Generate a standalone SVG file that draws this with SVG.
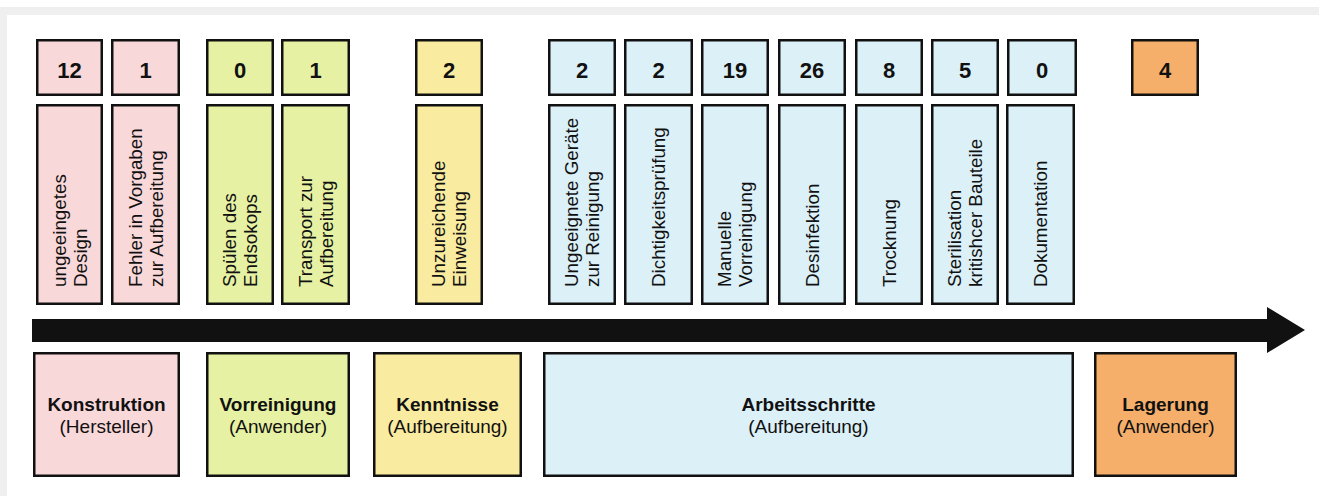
<svg xmlns="http://www.w3.org/2000/svg" width="1319" height="496" viewBox="0 0 1319 496">
<style>
  text { font-family: "Liberation Sans", Arial, sans-serif; fill: #111; }
  .box { stroke: #111; stroke-width: 2.5; }
  .pink { fill: #f9d8da; }
  .green { fill: #e6f1a3; }
  .yellow { fill: #f9eb9f; }
  .blue { fill: #dcf0f8; }
  .orange { fill: #f5af6b; }
  .num { font-size: 22px; font-weight: bold; text-anchor: middle; }
  .vt { font-size: 18.8px; }
  .title { font-size: 19px; font-weight: bold; text-anchor: middle; }
  .sub { font-size: 19px; text-anchor: middle; }
</style>
<rect x="0" y="0" width="1319" height="496" fill="#ffffff"/>
<rect x="0" y="7" width="1319" height="8" fill="#efefef"/>
<rect x="0" y="7" width="7" height="489" fill="#efefef"/>

<g id="connectors">
  <polygon points="32,319 1267,319 1267,307 1305,330 1267,353 1267,342 32,342" fill="#111"/>
</g>

<!-- Konstruktion -->
<g id="n-konstruktion">
  <rect class="box pink" x="34.25" y="353.25" width="144.5" height="122.5"/>
  <text class="title" x="106.5" y="411">Konstruktion</text>
  <text class="sub" x="106.5" y="433">(Hersteller)</text>
</g>
<g id="n-12">
  <rect class="box pink" x="37.25" y="40.25" width="64.5" height="54.5"/>
  <text class="num" x="69.5" y="78">12</text>
</g>
<g id="n-design">
  <rect class="box pink" x="37.25" y="105.25" width="64.5" height="198.5"/>
  <text class="vt" transform="translate(69.5,287) rotate(-90)"><tspan x="0" y="-3.85">ungeeingetes</tspan><tspan x="0" y="17.15">Design</tspan></text>
</g>
<g id="n-1a">
  <rect class="box pink" x="112.25" y="40.25" width="66.5" height="54.5"/>
  <text class="num" x="145.5" y="78">1</text>
</g>
<g id="n-vorgaben">
  <rect class="box pink" x="112.25" y="105.25" width="66.5" height="198.5"/>
  <text class="vt" transform="translate(145.5,287) rotate(-90)"><tspan x="0" y="-3.85">Fehler in Vorgaben</tspan><tspan x="0" y="17.15">zur Aufbereitung</tspan></text>
</g>

<!-- Vorreinigung -->
<g id="n-vorreinigung">
  <rect class="box green" x="207.25" y="353.25" width="141.5" height="122.5"/>
  <text class="title" x="278" y="411">Vorreinigung</text>
  <text class="sub" x="278" y="433">(Anwender)</text>
</g>
<g id="n-0a">
  <rect class="box green" x="207.25" y="40.25" width="65.5" height="54.5"/>
  <text class="num" x="240" y="78">0</text>
</g>
<g id="n-spuelen">
  <rect class="box green" x="207.25" y="105.25" width="65.5" height="198.5"/>
  <text class="vt" transform="translate(240,287) rotate(-90)"><tspan x="0" y="-3.85">Spülen des</tspan><tspan x="0" y="17.15">Endsokops</tspan></text>
</g>
<g id="n-1b">
  <rect class="box green" x="282.25" y="40.25" width="66.5" height="54.5"/>
  <text class="num" x="315.5" y="78">1</text>
</g>
<g id="n-transport">
  <rect class="box green" x="282.25" y="105.25" width="66.5" height="198.5"/>
  <text class="vt" transform="translate(315.5,287) rotate(-90)"><tspan x="0" y="-3.85">Transport zur</tspan><tspan x="0" y="17.15">Aufbereitung</tspan></text>
</g>

<!-- Kenntnisse -->
<g id="n-kenntnisse">
  <rect class="box yellow" x="374.25" y="353.25" width="146.5" height="122.5"/>
  <text class="title" x="447.5" y="411">Kenntnisse</text>
  <text class="sub" x="447.5" y="433">(Aufbereitung)</text>
</g>
<g id="n-2a">
  <rect class="box yellow" x="416.25" y="40.25" width="65.5" height="54.5"/>
  <text class="num" x="449" y="78">2</text>
</g>
<g id="n-einweisung">
  <rect class="box yellow" x="416.25" y="105.25" width="65.5" height="198.5"/>
  <text class="vt" transform="translate(449,287) rotate(-90)"><tspan x="0" y="-3.85">Unzureichende</tspan><tspan x="0" y="17.15">Einweisung</tspan></text>
</g>

<!-- Arbeitsschritte -->
<g id="n-arbeitsschritte">
  <rect class="box blue" x="544.25" y="353.25" width="528.5" height="122.5"/>
  <text class="title" x="808.5" y="411">Arbeitsschritte</text>
  <text class="sub" x="808.5" y="433">(Aufbereitung)</text>
</g>
<g id="n-2b">
  <rect class="box blue" x="549.25" y="40.25" width="65.5" height="54.5"/>
  <text class="num" x="582" y="78">2</text>
</g>
<g id="n-geraete">
  <rect class="box blue" x="549.25" y="105.25" width="65.5" height="198.5"/>
  <text class="vt" transform="translate(582,287) rotate(-90)"><tspan x="0" y="-3.85">Ungeeignete Geräte</tspan><tspan x="0" y="17.15">zur Reinigung</tspan></text>
</g>
<g id="n-2c">
  <rect class="box blue" x="625.25" y="40.25" width="66.5" height="54.5"/>
  <text class="num" x="658.5" y="78">2</text>
</g>
<g id="n-dichtigkeit">
  <rect class="box blue" x="625.25" y="105.25" width="66.5" height="198.5"/>
  <text class="vt" transform="translate(658.5,287) rotate(-90)"><tspan x="0" y="6.65">Dichtigkeitsprüfung</tspan></text>
</g>
<g id="n-19">
  <rect class="box blue" x="702.25" y="40.25" width="65.5" height="54.5"/>
  <text class="num" x="735" y="78">19</text>
</g>
<g id="n-manuelle">
  <rect class="box blue" x="702.25" y="105.25" width="65.5" height="198.5"/>
  <text class="vt" transform="translate(735,287) rotate(-90)"><tspan x="0" y="-3.85">Manuelle</tspan><tspan x="0" y="17.15">Vorreinigung</tspan></text>
</g>
<g id="n-26">
  <rect class="box blue" x="779.25" y="40.25" width="65.5" height="54.5"/>
  <text class="num" x="812" y="78">26</text>
</g>
<g id="n-desinfektion">
  <rect class="box blue" x="779.25" y="105.25" width="65.5" height="198.5"/>
  <text class="vt" transform="translate(812,287) rotate(-90)"><tspan x="0" y="6.65">Desinfektion</tspan></text>
</g>
<g id="n-8">
  <rect class="box blue" x="856.25" y="40.25" width="65.5" height="54.5"/>
  <text class="num" x="889" y="78">8</text>
</g>
<g id="n-trocknung">
  <rect class="box blue" x="856.25" y="105.25" width="65.5" height="198.5"/>
  <text class="vt" transform="translate(889,287) rotate(-90)"><tspan x="0" y="6.65">Trocknung</tspan></text>
</g>
<g id="n-5">
  <rect class="box blue" x="932.25" y="40.25" width="65.5" height="54.5"/>
  <text class="num" x="965" y="78">5</text>
</g>
<g id="n-sterilisation">
  <rect class="box blue" x="932.25" y="105.25" width="65.5" height="198.5"/>
  <text class="vt" transform="translate(965,287) rotate(-90)"><tspan x="0" y="-3.85">Sterilisation</tspan><tspan x="0" y="17.15">kritishcer Bauteile</tspan></text>
</g>
<g id="n-0b">
  <rect class="box blue" x="1008.25" y="40.25" width="67.5" height="54.5"/>
  <text class="num" x="1042" y="78">0</text>
</g>
<g id="n-dokumentation">
  <rect class="box blue" x="1007.25" y="105.25" width="66.5" height="198.5"/>
  <text class="vt" transform="translate(1040.5,287) rotate(-90)"><tspan x="0" y="6.65">Dokumentation</tspan></text>
</g>

<!-- Lagerung -->
<g id="n-lagerung">
  <rect class="box orange" x="1095.25" y="353.25" width="140.5" height="122.5"/>
  <text class="title" x="1165.5" y="411">Lagerung</text>
  <text class="sub" x="1165.5" y="433">(Anwender)</text>
</g>
<g id="n-4">
  <rect class="box orange" x="1132.25" y="40.25" width="65.5" height="54.5"/>
  <text class="num" x="1165" y="78">4</text>
</g>
</svg>
